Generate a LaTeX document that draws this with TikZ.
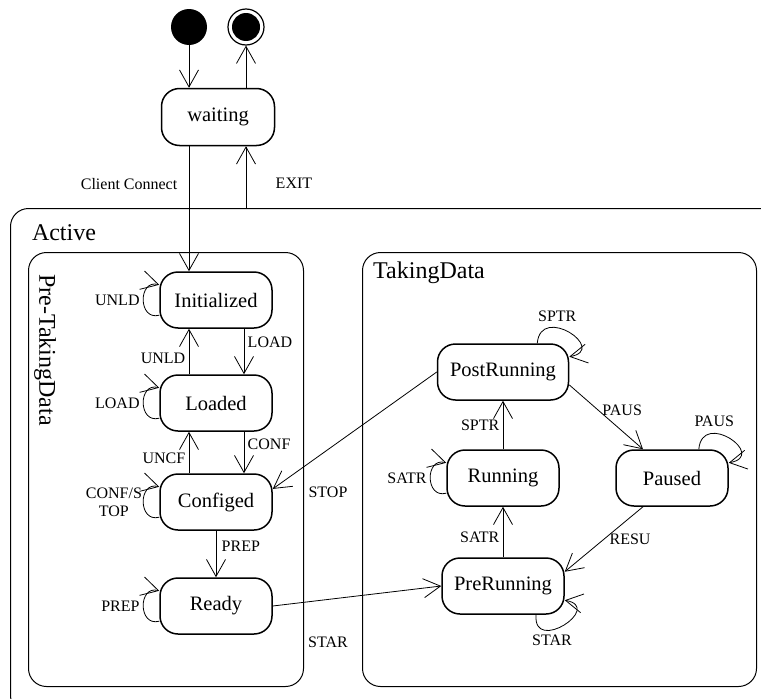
\documentclass[tikz,border=0pt]{standalone}
\usepackage{fontspec}
\setmainfont{Liberation Serif}
\usetikzlibrary{arrows.meta, positioning}

\tikzset{
  state/.style={draw, line width=1.5pt, rounded corners=18pt, minimum width=112pt, minimum height=56pt, inner sep=0pt, font=\fontsize{20.5}{24}\selectfont},
  region/.style={draw, line width=1pt, rounded corners=18pt, inner sep=0pt},
  title/.style={font=\fontsize{24}{28}\selectfont},
  trans/.style={font=\fontsize{16}{18}\selectfont},
  conn/.style={line width=0.8pt, -{Straight Barb[length=17pt,width=19pt]}},
  every loop/.style={looseness=1, min distance=22pt},
  selfloop/.style={looseness=1, min distance=40pt},
}

\begin{document}
\begin{tikzpicture}[x=1pt, y=1pt]
    \useasboundingbox (0,0) rectangle (761,-699);
    \clip (0,0) rectangle (761,-699);

    % regions
    \node[region, anchor=north west, minimum width=770pt, minimum height=505pt] (active) at (10,-208) {};
    \node[region, anchor=north west, minimum width=275pt, minimum height=434pt] (pre) at (28,-252) {};
    \node[region, anchor=north west, minimum width=394pt, minimum height=434pt] (taking) at (362,-252) {};
    \node[title] (activelbl) at (64,-233) {Active};
    \node[title, rotate=-90] (prelbl) at (45,-350) {Pre-TakingData};
    \node[title] (takinglbl) at (429,-273) {TakingData};

    % top level
    \node[circle, fill, minimum size=36pt, inner sep=0pt] (init) at (189,-27) {};
    \node[circle, draw, line width=1.2pt, minimum size=36pt, inner sep=0pt,
          path picture={\fill (path picture bounding box.center) circle (14pt);}] (final) at (246,-27) {};
    \node[state, minimum width=113pt, minimum height=57pt] (waiting) at (218,-117) {waiting};

    % Pre-TakingData
    \node[state] (initd) at (216,-300) {Initialized};
    \node[state] (loaded) at (216,-403) {Loaded};
    \node[state] (configed) at (216,-502) {Configed};
    \node[state] (ready) at (216,-606) {Ready};

    \draw[conn] (init) -- (init |- waiting.north);
    \draw[conn] (final |- waiting.north) -- (final);
    \draw[conn] (init |- waiting.south) -- (init |- initd.north) node[trans, pos=0.3, left=8pt] {Client Connect};
    \draw[conn] (final |- active.north) -- (final |- waiting.south) node[trans, pos=0.4, right=26pt] {EXIT};

    \draw[conn] ([xshift=28pt]initd.south) -- ([xshift=28pt]loaded.north) node[trans, pos=0.3, right] {LOAD};
    \draw[conn] ([xshift=-27pt]loaded.north) -- ([xshift=-27pt]initd.south) node[trans, pos=0.35, left] {UNLD};
    \draw[conn] ([xshift=28pt]loaded.south) -- ([xshift=28pt]configed.north) node[trans, pos=0.3, right] {CONF};
    \draw[conn] ([xshift=-27pt]configed.north) -- ([xshift=-27pt]loaded.south) node[trans, pos=0.35, left] {UNCF};
    \draw[conn] (configed) -- (ready) node[trans, pos=0.33, right=2pt] {PREP};

    \path[conn] (initd) edge[loop left] node[trans, left] {UNLD} ();
    \path[conn] (loaded) edge[loop left] node[trans, left] {LOAD} ();
    \path[conn] (configed) edge[loop left] node[trans, left, align=center, inner sep=1pt] {CONF/S\\TOP} ();
    \path[conn] (ready) edge[loop left] node[trans, left] {PREP} ();

    % TakingData
    \node[state, minimum width=131pt] (postrun) at (503,-372) {PostRunning};
    \node[state] (running) at (503,-478) {Running};
    \node[state] (paused) at (672,-478) {Paused};
    \node[state, minimum width=122pt] (prerun) at (503,-586) {PreRunning};

    \draw[conn] (running) -- (postrun) node[trans, midway, left] {SPTR};
    \draw[conn] (prerun) -- (running) node[trans, pos=0.4, left] {SATR};
    \draw[conn] (postrun.-11) -- ([xshift=-29pt]paused.north) node[trans, pos=0.4, right] {PAUS};
    \draw[conn] ([xshift=-29pt]paused.south) -- (prerun.13) node[trans, pos=0.5, right=2pt] {RESU};

    \path[conn] (postrun.40) edge[selfloop, out=85, in=10] node[trans, above=2pt, pos=0.35] {SPTR} (postrun.13);
    \path[conn] (paused.47) edge[selfloop, out=85, in=10] node[trans, above=3pt, pos=0.3] {PAUS} (paused.15);
    \path[conn] (prerun.-41) edge[selfloop, out=-95, in=-10] node[trans, below=1pt, pos=0.35] {STAR} (prerun.-13);
    \path[conn] (running) edge[loop left] node[trans, left] {SATR} ();

    % between regions
    \draw[conn] (postrun.west) -- (configed.13);
    \node[trans] (stoplbl) at (328,-492) {STOP};
    \draw[conn] (ready.east) -- (prerun.west);
    \node[trans] (starlbl) at (328,-642) {STAR};
\end{tikzpicture}
\end{document}
